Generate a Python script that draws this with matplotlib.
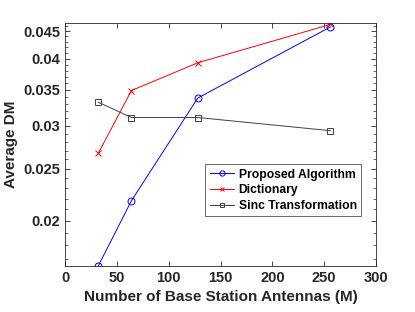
import matplotlib
matplotlib.use('Agg')
import matplotlib.pyplot as plt
from matplotlib.ticker import FixedLocator, NullFormatter, FixedFormatter

plt.rcParams['font.family'] = ['Liberation Sans', 'DejaVu Sans']
plt.rcParams['font.weight'] = 'bold'

antennas = [32, 64, 128, 256]
proposed = [0.0165, 0.0218, 0.0338, 0.0458]
dictionary = [0.0267, 0.0349, 0.0393, 0.0463]
sinc = [0.0332, 0.0311, 0.0311, 0.0294]

yticks = [0.02, 0.025, 0.03, 0.035, 0.04, 0.045]
ytick_labels = ['0.02', '0.025', '0.03', '0.035', '0.04', '0.045']

fig = plt.figure(figsize=(4.15, 3.12), dpi=100)
ax = fig.add_axes([0.157, 0.148, 0.749, 0.777])

ax.plot(antennas, proposed, '-o', color='blue', lw=0.7, ms=5, mfc='none', mew=0.7, label='Proposed Algorithm')
ax.plot(antennas, dictionary, '-x', color='red', lw=0.7, ms=4.5, mew=0.7, label='Dictionary')
ax.plot(antennas, sinc, '-s', color='#404040', lw=0.7, ms=4.5, mfc='none', mew=0.7, label='Sinc Transformation')

ax.set_yscale('log')
ax.set_xlim(0, 300)
ax.set_ylim(0.0165, 0.0465)
ax.yaxis.set_major_locator(FixedLocator(yticks))
ax.yaxis.set_major_formatter(FixedFormatter(ytick_labels))
minors = [v / 1000 for v in range(17, 47) if v % 5 != 0]
ax.yaxis.set_minor_locator(FixedLocator(minors))
ax.yaxis.set_minor_formatter(NullFormatter())
ax.set_xticks(range(0, 301, 50))

ax.tick_params(which='both', direction='in', top=True, right=True, labelsize=10.5, colors='#262626')
ax.tick_params(which='major', length=3.5, width=0.6)
ax.tick_params(which='minor', length=2, width=0.5)
for s in ax.spines.values():
    s.set_color('#262626')
    s.set_linewidth(0.6)

ax.set_xlabel('Number of Base Station Antennas (M)', fontsize=11, fontweight='bold', color='#262626')
ax.set_ylabel('Average DM', fontsize=11, fontweight='bold', color='#262626')

leg = ax.legend(loc='lower right', bbox_to_anchor=(0.952, 0.205), fontsize=8.7, frameon=True,
                fancybox=False, edgecolor='#262626', handlelength=2.0, borderpad=0.35,
                labelspacing=0.3, handletextpad=0.4, borderaxespad=0, markerscale=0.75)
leg.get_frame().set_linewidth(0.6)
for t in leg.get_texts():
    t.set_fontweight('bold')

fig.savefig('out.png', dpi=100)
